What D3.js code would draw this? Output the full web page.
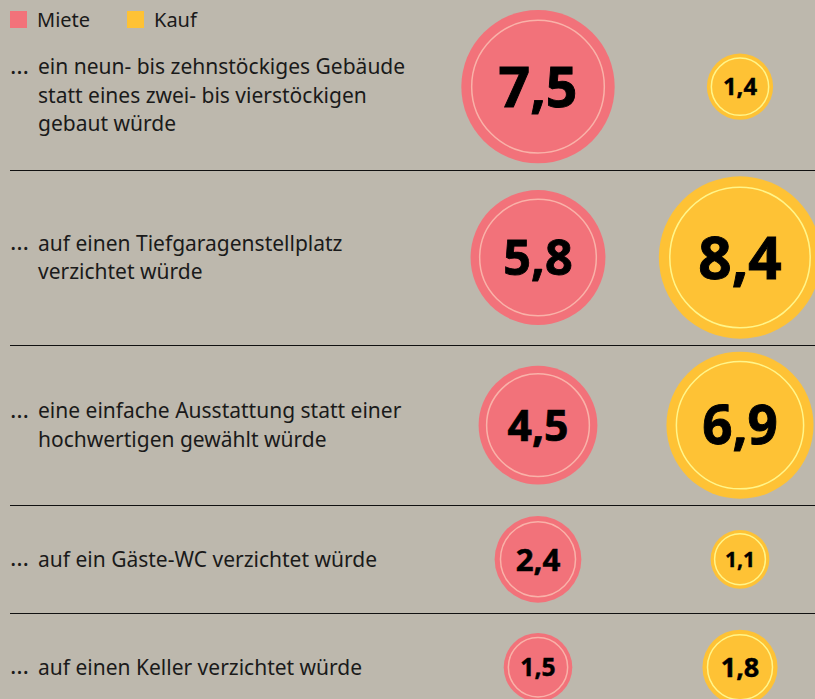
<!DOCTYPE html>
<html>
<head>
<meta charset="utf-8">
<script src="https://cdn.jsdelivr.net/npm/d3@7"></script>
<style>
  html, body { margin: 0; padding: 0; background: #bdb8ad; }
  svg { display: block; }
  text { font-family: "Noto Sans", sans-serif; }
</style>
</head>
<body>
<svg id="chart"></svg>
<script>
// data
const series = ["Miete", "Kauf"];
const labels = [
  ["ein neun- bis zehnstöckiges Gebäude", "statt eines zwei- bis vierstöckigen", "gebaut würde"],
  ["auf einen Tiefgaragenstellplatz", "verzichtet würde"],
  ["eine einfache Ausstattung statt einer", "hochwertigen gewählt würde"],
  ["auf ein Gäste-WC verzichtet würde"],
  ["auf einen Keller verzichtet würde"]
];
const miete = [7.5, 5.8, 4.5, 2.4, 1.5];
const kauf = [1.4, 8.4, 6.9, 1.1, 1.8];

const width = 815;
const height = 699;

const colors = { Miete: "#f2727a", Kauf: "#fec235" };
const rings = { Miete: "#f9b2a9", Kauf: "#fff58a" };

const svg = d3.select("#chart")
    .attr("width", width)
    .attr("height", height);

svg.append("rect")
    .attr("width", width)
    .attr("height", height)
    .attr("fill", "#bdb8ad");

// radius scale (area proportional to value)
const rScale = d3.scaleSqrt()
    .domain([0, 10])
    .range([0, 28 * Math.sqrt(10)]);

const xScale = d3.scalePoint()
    .domain(series)
    .range([538, 740]);

const de = d3.formatLocale({ decimal: ",", thousands: ".", grouping: [3], currency: ["", " €"] });
const fmt = de.format(".1f");

// build rows, height of each row follows its biggest circle
const rows = labels.map((lines, i) => ({
  lines: lines,
  values: [{ key: "Miete", value: miete[i] }, { key: "Kauf", value: kauf[i] }]
}));

let y = 3.5;
rows.forEach(row => {
  const maxR = d3.max(row.values, d => rScale(d.value));
  row.half = Math.max(54, maxR + 6.5);
  row.top = y;
  row.center = y + row.half;
  y += row.half * 2;
  row.bottom = y;
});

const lineHeight = 28.5;

const rowGroups = svg.selectAll(".row")
    .data(rows)
    .enter().append("g")
    .attr("class", "row");

// separator lines
rowGroups.filter((d, i) => i < rows.length - 1)
    .append("line")
    .attr("x1", 10)
    .attr("x2", width)
    .attr("y1", d => Math.round(d.bottom) + 0.5)
    .attr("y2", d => Math.round(d.bottom) + 0.5)
    .attr("stroke", "#111")
    .attr("stroke-width", 1);

// labels with hanging ellipsis
rowGroups.each(function(d) {
  const g = d3.select(this);
  let first = d.center - (d.lines.length - 1) * lineHeight / 2;
  first = Math.max(first, 67); // keep clear of the legend
  g.append("text")
      .attr("x", 10)
      .attr("y", first)
      .attr("dy", "0.3em")
      .attr("font-size", 24)
      .attr("fill", "#1a1a1a")
      .text("…");
  g.selectAll(".label-line")
      .data(d.lines)
      .enter().append("text")
      .attr("class", "label-line")
      .attr("x", 38)
      .attr("y", (t, j) => first + j * lineHeight)
      .attr("dy", "0.35em")
      .attr("font-size", 21)
      .attr("fill", "#1a1a1a")
      .text(t => t);
});

// bubbles
const bubbles = rowGroups.selectAll(".bubble")
    .data(d => d.values.map(v => Object.assign({ cy: d.center }, v)))
    .enter().append("g")
    .attr("class", "bubble")
    .attr("transform", d => `translate(${xScale(d.key)},${d.cy})`);

bubbles.append("circle")
    .attr("r", d => rScale(d.value))
    .attr("fill", d => colors[d.key]);

bubbles.append("circle")
    .attr("r", d => rScale(d.value) * 0.865)
    .attr("fill", "none")
    .attr("stroke", d => rings[d.key])
    .attr("stroke-width", 1.5);

bubbles.append("text")
    .attr("text-anchor", "middle")
    .attr("dy", "0.36em")
    .attr("font-size", d => rScale(d.value) * 0.72)
    .attr("font-weight", 700)
    .attr("fill", "#000")
    .attr("stroke", "#000")
    .attr("stroke-width", d => rScale(d.value) * 0.012)
    .text(d => fmt(d.value));

// legend
const legend = svg.append("g").attr("class", "legend");
const legendX = [10, 127];
const items = legend.selectAll(".item")
    .data(series)
    .enter().append("g")
    .attr("class", "item")
    .attr("transform", (d, i) => `translate(${legendX[i]},11)`);

items.append("rect")
    .attr("width", 17)
    .attr("height", 17)
    .attr("fill", d => colors[d]);

items.append("text")
    .attr("x", 27)
    .attr("y", 8.5)
    .attr("dy", "0.35em")
    .attr("font-size", 20)
    .attr("fill", "#1a1a1a")
    .text(d => d);
</script>
</body>
</html>
